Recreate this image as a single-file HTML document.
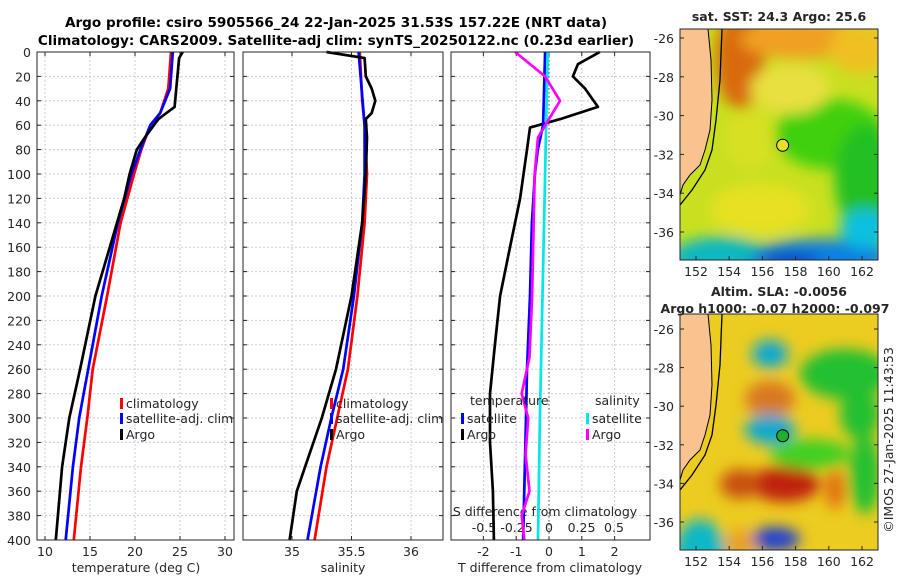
<!DOCTYPE html>
<html><head><meta charset="utf-8"><style>
body{margin:0;background:#fff}
svg{display:block;font-family:"DejaVu Sans","Liberation Sans",sans-serif}
</style></head><body>
<svg id="c" width="900" height="580" viewBox="0 0 900 580">
<defs>
<filter id="bl" x="-20%" y="-20%" width="140%" height="140%"><feGaussianBlur stdDeviation="7"/></filter>
<clipPath id="cm1"><rect x="680" y="29" width="198" height="231"/></clipPath>
<clipPath id="cm2"><rect x="680" y="314" width="198" height="236"/></clipPath>
</defs>
<text x="336" y="27" text-anchor="middle" font-size="13.6" font-weight="bold">Argo profile: csiro 5905566_24 22-Jan-2025 31.53S 157.22E (NRT data)</text>
<text x="336" y="45" text-anchor="middle" font-size="13.6" font-weight="bold">Climatology: CARS2009. Satellite-adj clim: synTS_20250122.nc (0.23d earlier)</text>
<g id="plots"></g>
<g id="maps"></g>
</svg>
<script>
// depth axis
const depthTicks=[0,20,40,60,80,100,120,140,160,180,200,220,240,260,280,300,320,340,360,380,400];
// panel 1 temperature
const tTicks=[10,15,20,25,30];
const tClimD=[0,30,50,60,80,100,140,200,260,300,340,400];
const tClim=[24.0,23.7,22.8,21.7,20.7,19.9,18.4,16.9,15.3,14.7,14.0,13.2];
const tSatD=[0,30,50,60,80,100,140,200,260,300,340,400];
const tSat=[24.2,23.9,22.8,21.7,20.6,19.6,18.1,16.3,14.8,13.8,13.1,12.3];
const tArgoD=[0,5,45,55,70,80,100,120,160,200,260,300,340,400];
const tArgo=[25.3,24.9,24.4,22.6,21.1,20.2,19.4,18.8,17.2,15.6,13.9,12.7,11.9,11.2];
// panel 2 salinity
const sTicks=[35,35.5,36];
const sClimD=[0,40,60,100,140,200,260,300,340,400];
const sClim=[35.57,35.59,35.61,35.63,35.61,35.55,35.47,35.38,35.29,35.19];
const sSatD=[0,60,100,140,200,260,300,340,400];
const sSat=[35.56,35.61,35.61,35.59,35.52,35.43,35.33,35.24,35.13];
const sArgoD=[0,5,20,30,40,50,55,70,100,140,200,260,300,340,360,400];
const sArgo=[35.29,35.61,35.62,35.67,35.70,35.67,35.62,35.63,35.62,35.59,35.50,35.37,35.25,35.11,35.04,34.98];
// panel 3 differences
const dtTicks=[-2,-1,0,1,2];
const dsTicks=[-0.5,-0.25,0,0.25,0.5];
const dtArgoD=[0,10,20,30,45,55,62,80,120,160,200,240,280,320,360,400];
const dtArgo=[1.55,0.88,0.73,1.10,1.49,0.34,-0.58,-0.67,-0.88,-1.19,-1.49,-1.65,-1.80,-1.80,-1.71,-1.68];
const dtSatD=[0,60,80,100,140,200,260,300,400];
const dtSat=[-0.12,-0.18,-0.34,-0.43,-0.52,-0.58,-0.67,-0.70,-0.79];
const dsSatD=[0,100,200,300,400];
const dsSat=[-0.01,-0.03,-0.05,-0.07,-0.085];
const dsArgoD=[0,20,40,55,70,100,200,250,280,300,330,360,380,400];
const dsArgo=[-0.26,-0.03,0.085,0,-0.085,-0.11,-0.13,-0.15,-0.21,-0.16,-0.18,-0.15,-0.21,-0.19];

const NS='http://www.w3.org/2000/svg';
const Y0=52,Y1=540;
const yS=d=>Y0+(Y1-Y0)*d/400;
function mk(tag,at,parent){const e=document.createElementNS(NS,tag);for(const k in at)e.setAttribute(k,at[k]);parent.appendChild(e);return e;}
const G=document.getElementById('plots');
function lin(a,b,c,d){return v=>c+(v-a)*(d-c)/(b-a);}
const xT=lin(10,30,45,225), xS=lin(35,36,292,411), xDT=lin(0,2,549,614.6), xDS=lin(0,0.5,549,614);
const panels=[[37,234],[243,443],[451,650]];
function line(xs,ds,vs,color,name,w){
  const p=mk('polyline',{points:vs.map((v,i)=>xs(v).toFixed(1)+','+yS(ds[i]).toFixed(1)).join(' '),fill:'none',stroke:color,'stroke-width':w||2.7,'stroke-linejoin':'round'},G);
  
  
}
function txt(x,y,s,anchor,size,name,parent){const t=mk('text',{x:x,y:y,'text-anchor':anchor||'start','font-size':size||12.5,fill:'#262626'},parent||G);t.textContent=s;
  
  return t;}
panels.forEach(([a,b],pi)=>{
  const ax=mk('rect',{x:a,y:Y0,width:b-a,height:Y1-Y0,fill:'#fff',stroke:'none'},G);
  
  
  depthTicks.forEach(d=>{
    mk('line',{x1:a,x2:b,y1:yS(d),y2:yS(d),stroke:'#c8cce0','stroke-width':1,'stroke-dasharray':'2,2'},G);
    mk('line',{x1:a,x2:a+4,y1:yS(d),y2:yS(d),stroke:'#262626'},G);
    mk('line',{x1:b-4,x2:b,y1:yS(d),y2:yS(d),stroke:'#262626'},G);
    if(pi===0) txt(a-6,yS(d)+5,String(d),'end',12.5,'y-tick-label');
  });
});
function xgrid(ticks,xs,pi,ty){
  ticks.forEach(t=>{const x=xs(t);
    mk('line',{x1:x,x2:x,y1:Y0,y2:Y1,stroke:'#c8cce0','stroke-dasharray':'2,2'},G);
    mk('line',{x1:x,x2:x,y1:Y1-4,y2:Y1,stroke:'#262626'},G);
    mk('line',{x1:x,x2:x,y1:Y0,y2:Y0+4,stroke:'#262626'},G);
    txt(x,ty,String(t),'middle',12.5,'x-tick-label');});
}
xgrid(tTicks,xT,0,556);
xgrid(sTicks,xS,1,556);
xgrid(dtTicks,xDT,2,556);
mk('line',{x1:xDT(0),x2:xDT(0),y1:Y0,y2:Y1,stroke:'#555','stroke-dasharray':'1.5,2.5'},G);
dsTicks.forEach(t=>txt(xDS(t),532,String(t),'middle',12.5,'s-diff-tick-label'));
txt(545,516,'S difference from climatology','middle',12.5,'s-diff-axis-title');
txt(136,572,'temperature (deg C)','middle',12.5,'x-axis-title-temperature');
txt(343,572,'salinity','middle',12.5,'x-axis-title-salinity');
txt(550,572,'T difference from climatology','middle',12.5,'x-axis-title-tdiff');

line(xT,tClimD,tClim,'#ff0000','temp-climatology-line');
line(xT,tSatD,tSat,'#0000ff','temp-satellite-line');
line(xT,tArgoD,tArgo,'#000','temp-argo-line');
line(xS,sClimD,sClim,'#ff0000','sal-climatology-line');
line(xS,sSatD,sSat,'#0000ff','sal-satellite-line');
line(xS,sArgoD,sArgo,'#000','sal-argo-line');
line(xDT,dtArgoD,dtArgo,'#000','tdiff-argo-line');
line(xDT,dtSatD,dtSat,'#0000ff','tdiff-satellite-line');
line(xDS,dsSatD,dsSat,'#00e8e8','sdiff-satellite-line');
line(xDS,dsArgoD,dsArgo,'#ff00ff','sdiff-argo-line');

panels.forEach(([a,b])=>mk('rect',{x:a,y:Y0,width:b-a,height:Y1-Y0,fill:'none',stroke:'#262626','stroke-width':1},G));

function leg(x,y,color,label){
  const g=mk('g',{},G);
  
  
  mk('rect',{x:x,y:y-10,width:3,height:11,fill:color},g);
  txt(x+6,y,label,'start',12.5,'legend-label',g);
}
leg(120,408,'#ff0000','climatology');leg(120,423,'#0000ff','satellite-adj. clim');leg(120,439,'#000','Argo');
leg(330,408,'#ff0000','climatology');leg(330,423,'#0000ff','satellite-adj. clim');leg(330,439,'#000','Argo');
txt(470,405,'temperature','start',12.5,'legend-title-temperature');
txt(595,405,'salinity','start',12.5,'legend-title-salinity');
leg(461,423,'#0000ff','satellite');leg(461,439,'#000','Argo');
leg(586,423,'#00e8e8','satellite');leg(586,439,'#ff00ff','Argo');

// maps
const M=document.getElementById('maps');
const lonTicks=[152,154,156,158,160,162];
const latTicks=[-26,-28,-30,-32,-34,-36];
const xL=lin(152,162,696,862);
function drawMap(top,bot,lat26,lat36,clip,blobs,base,name){
  const yL=lin(-26,-36,lat26,lat36);
  const g=mk('g',{'clip-path':'url(#'+clip+')'},M);
  
  
  mk('rect',{x:680,y:top,width:198,height:bot-top,fill:base},g);
  const bg=mk('g',{filter:'url(#bl)'},g);
  blobs.forEach(b=>mk('ellipse',{cx:b[0],cy:top+b[1],rx:b[2],ry:b[3],fill:b[4]},bg));
  const off=top-29;
  const coast=[[708,29],[711,60],[712,100],[710,130],[705,150],[700,165],[690,175],[683,185],[680,195]];
  const shelf=[[722,29],[720,80],[716,120],[712,150],[705,170],[692,190],[680,205]];
  mk('polygon',{points:'680,'+top+' '+coast.map(p=>p[0]+','+(p[1]+off)).join(' ')+' 680,'+(195+off),fill:'#f9c38f',stroke:'#000','stroke-width':1},g);
  mk('polyline',{points:shelf.map(p=>p[0]+','+(p[1]+off)).join(' '),fill:'none',stroke:'#000','stroke-width':1.3},g);
  mk('rect',{x:680,y:top,width:198,height:bot-top,fill:'none',stroke:'#262626'},M);
  lonTicks.forEach(l=>{mk('line',{x1:xL(l),x2:xL(l),y1:bot-4,y2:bot,stroke:'#262626'},M);txt(xL(l),bot+16,String(l),'middle',12.5,'map-lon-tick',M);});
  latTicks.forEach(l=>{mk('line',{x1:680,x2:684,y1:yL(l),y2:yL(l),stroke:'#262626'},M);mk('line',{x1:874,x2:878,y1:yL(l),y2:yL(l),stroke:'#262626'},M);txt(674,yL(l)+5,String(l),'end',12.5,'map-lat-tick',M);});
  return yL;
}
const sstBlobs=[[740,30,25,50,'#d86a10'],[800,10,60,20,'#f0a020'],[860,20,30,25,'#f0c020'],[830,105,55,35,'#40d010'],[865,150,30,55,'#20c020'],[760,180,50,25,'#e8e020'],[750,110,25,30,'#d8e020'],[720,230,50,22,'#10b8c0'],[820,228,70,18,'#1080e0'],[865,200,25,20,'#10c0e0'],[790,232,30,8,'#0840c0'],[790,60,40,25,'#e8e040']];
const y1=drawMap(29,260,38,232,'cm1',sstBlobs,'#c8e020','sst-map');
const slaBlobs=[[770,40,18,14,'#10a8d0'],[845,60,45,25,'#20c030'],[860,100,20,25,'#20c030'],[770,85,25,18,'#d87820'],[770,115,25,15,'#10a8d0'],[785,170,35,18,'#c02010'],[740,170,20,15,'#c85010'],[775,225,25,12,'#2040d0'],[700,240,25,35,'#10b8c8'],[865,160,15,40,'#20c030'],[835,175,10,20,'#e07010'],[740,230,15,15,'#e8a020'],[810,140,40,15,'#40d020'],[820,260,30,10,'#20c030']];
const y2=drawMap(314,550,329,522,'cm2',slaBlobs,'#eccc20','sla-map');
const pos=mk('circle',{cx:xL(157.22),cy:y1(-31.53),r:6,fill:'#e8e020',stroke:'#000'},M);


const pos2=mk('circle',{cx:xL(157.22),cy:y2(-31.53),r:6,fill:'#20b030',stroke:'#000'},M);


txt(779,21,'sat. SST: 24.3 Argo: 25.6','middle',12.5,'sst-map-title',M).setAttribute('font-weight','bold');
txt(779,296,'Altim. SLA: -0.0056','middle',12.5,'sla-map-title',M).setAttribute('font-weight','bold');
txt(775,313,'Argo h1000: -0.07 h2000: -0.097','middle',12.5,'sla-map-subtitle',M).setAttribute('font-weight','bold');
const cr=txt(0,0,'©IMOS 27-Jan-2025 11:43:53','middle',12.5,'copyright-timestamp',M);
cr.setAttribute('transform','translate(893,440) rotate(-90)');
</script>
</body></html>
